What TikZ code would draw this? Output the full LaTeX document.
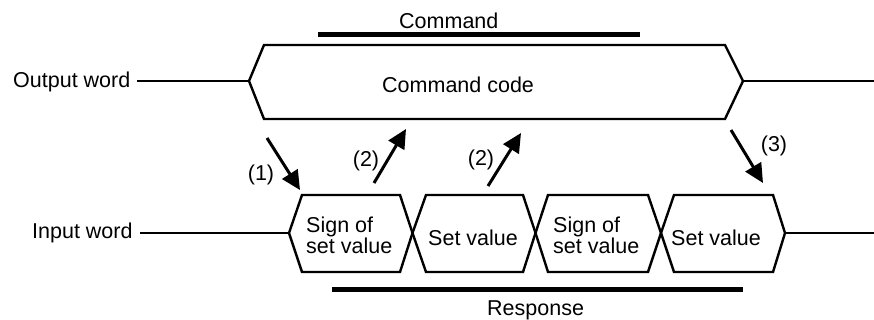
\documentclass[tikz,border=0pt]{standalone}
\usepackage{fontspec}
\setmainfont{Liberation Sans}
\usetikzlibrary{arrows.meta}
\begin{document}
\begin{tikzpicture}[x=1pt,y=-1pt,
  sig/.style={line width=2.4pt, line join=miter},
  wire/.style={line width=2.1pt},
  bar/.style={line width=5pt},
  arr/.style={line width=3pt,-{Triangle[length=19pt,width=18pt]}},
  txt/.style={font=\fontsize{21.5}{20}\selectfont, inner sep=0pt, anchor=base west},
  num/.style={font=\fontsize{21.5}{20}\selectfont, inner sep=0pt, anchor=center}]
\useasboundingbox (0,0) rectangle (874,320);
% output word
\coordinate (oL) at (249,81);
\coordinate (oR) at (743,81);
\draw[wire] (137,81) -- (oL);
\draw[wire] (oR) -- (874,81);
\draw[sig] (oL) -- (264,45) -- (725,45) -- (oR) -- (725,119) -- (264,119) -- cycle;
% input word
\coordinate (i0) at (289,233);
\coordinate (i1) at (412.5,233);
\coordinate (i2) at (535.5,233);
\coordinate (i3) at (661,233);
\coordinate (i4) at (785,233);
\draw[wire] (140,233) -- (i0);
\draw[wire] (i4) -- (874,233);
\draw[sig] (i0) -- (302,195) -- (400,195) -- (i1) -- (400,272) -- (302,272) -- cycle;
\draw[sig] (i1) -- (426,195) -- (523,195) -- (i2) -- (523,272) -- (426,272) -- cycle;
\draw[sig] (i2) -- (548,195) -- (648,195) -- (i3) -- (648,272) -- (548,272) -- cycle;
\draw[sig] (i3) -- (674,195) -- (773,195) -- (i4) -- (773,272) -- (674,272) -- cycle;
% bars
\draw[bar] (318,34.5) -- (640,34.5);
\draw[bar] (332,289.5) -- (743,289.5);
% texts
\node[txt] (tOut) at (13,88) {Output word};
\node[txt] (tIn) at (32,238) {Input word};
\node[txt] (tCmd) at (399,28.3) {Command};
\node[txt] (tCode) at (382,92.7) {Command code};
\node[txt] (tResp) at (487,315) {Response};
\node[txt] (h1a) at (306,232.5) {Sign of};
\node[txt] (h1b) at (306,253) {set value};
\node[txt] (h2) at (428,245.5) {Set value};
\node[txt] (h3a) at (553,232.5) {Sign of};
\node[txt] (h3b) at (553,253) {set value};
\node[txt] (h4) at (671,245.5) {Set value};
% arrows
\coordinate (a1s) at (267,138); \coordinate (a1e) at (300,190);
\coordinate (a2s) at (374,183); \coordinate (a2e) at (406,129);
\coordinate (a3s) at (488,186); \coordinate (a3e) at (521,133);
\coordinate (a4s) at (731,130); \coordinate (a4e) at (763,183);
\draw[arr] (a1s) -- (a1e);
\draw[arr] (a2s) -- (a2e);
\draw[arr] (a3s) -- (a3e);
\draw[arr] (a4s) -- (a4e);
\node[num] (n1) at (261,174.5) {(1)};
\node[num] (n2) at (366,161) {(2)};
\node[num] (n3) at (481,160) {(2)};
\node[num] (n4) at (774,146) {(3)};
\end{tikzpicture}
\end{document}
